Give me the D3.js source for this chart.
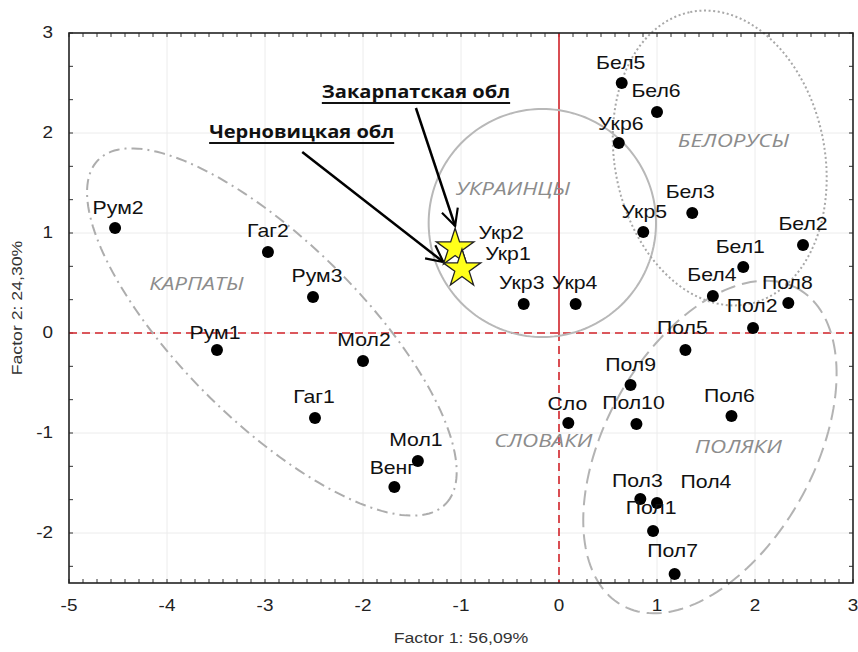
<!DOCTYPE html>
<html lang="ru">
<head>
<meta charset="UTF-8">
<title>Factor plot</title>
<script src="https://d3js.org/d3.v7.min.js"></script>
<style>
    body { margin: 0; background: #fff; }
    svg { display: block; }
    .lbl { font-family: "Liberation Sans", Arial, sans-serif; font-size: 18px; fill: #111; }
    .tick-lbl { font-family: "Liberation Sans", Arial, sans-serif; font-size: 16px; fill: #222; }
    .ttl { font-family: "Liberation Sans", Arial, sans-serif; font-size: 15px; fill: #333; }
    .grp { font-family: "Open Sans", sans-serif; font-style: italic; font-size: 19px; fill: #8c8c8c; }
    .note { font-family: "Open Sans", sans-serif; font-weight: bold; font-size: 17px; fill: #111; }
</style>
</head>
<body>
<svg width="858" height="652"></svg>
<script>
// samples, factor scores
const names = ["Рум2", "Гаг2", "Рум3", "Рум1", "Мол2", "Гаг1", "Мол1", "Венг",
    "Укр2", "Укр1", "Укр3", "Укр4", "Сло",
    "Бел5", "Бел6", "Укр6", "Бел3", "Укр5", "Бел2", "Бел1", "Бел4",
    "Пол8", "Пол2", "Пол5", "Пол9", "Пол10", "Пол6", "Пол3", "Пол4", "Пол1", "Пол7"];
const factor1 = [-4.53, -2.97, -2.51, -3.49, -2.00, -2.49, -1.44, -1.68,
    -1.06, -0.99, -0.36, 0.17, 0.095,
    0.64, 1.00, 0.61, 1.36, 0.86, 2.49, 1.88, 1.57,
    2.34, 1.98, 1.29, 0.73, 0.79, 1.76, 0.83, 1.00, 0.96, 1.18];
const factor2 = [1.05, 0.81, 0.36, -0.17, -0.28, -0.85, -1.28, -1.54,
    0.85, 0.64, 0.29, 0.29, -0.90,
    2.50, 2.21, 1.90, 1.20, 1.01, 0.88, 0.66, 0.37,
    0.30, 0.05, -0.17, -0.52, -0.91, -0.83, -1.66, -1.70, -1.98, -2.41];
const starNames = ["Укр2", "Укр1"];

const xTicks = [-5, -4, -3, -2, -1, 0, 1, 2, 3];
const yTicks = [-2, -1, 0, 1, 2, 3];
const xTitle = "Factor 1: 56,09%";
const yTitle = "Factor 2: 24,30%";

// group ellipses: centre, semi-axes (factor units), rotation (deg)
const groupNames = ["КАРПАТЫ", "УКРАИНЦЫ", "БЕЛОРУСЫ", "ПОЛЯКИ"];
const groupCx = [-2.93, -0.17, 1.64, 1.54];
const groupCy = [0.01, 1.10, 1.75, -1.14];
const groupA = [2.47, 1.16, 1.49, 1.82];
const groupB = [0.91, 1.14, 1.07, 1.06];
const groupRot = [-44, 0, 102, 60];
// group captions
const captionText = ["КАРПАТЫ", "УКРАИНЦЫ", "БЕЛОРУСЫ", "СЛОВАКИ", "ПОЛЯКИ"];
const captionX = [-3.7, -0.47, 1.78, -0.16, 1.83];
const captionY = [0.5, 1.45, 1.93, -1.07, -1.13];

// region notes with arrows
const noteText = ["Закарпатская обл", "Черновицкая обл"];
const noteX = [-2.42, -3.57];
const noteY = [2.42, 2.02];
const arrowFromX = [-1.46, -2.62], arrowFromY = [2.25, 1.81];
const arrowToX = [-1.06, -1.18], arrowToY = [1.07, 0.71];

// label placement around each marker, px
const labelShift = {
    "Рум2": [3, -20], "Гаг2": [0, -21], "Рум3": [4, -21], "Рум1": [-2, -17], "Мол2": [1, -21],
    "Гаг1": [-1, -21], "Мол1": [-2, -21], "Венг": [-2, -19], "Укр2": [46, -15], "Укр1": [46, -15],
    "Укр3": [-2, -21], "Укр4": [-1, -21], "Сло": [-1, -19], "Бел5": [-1, -20], "Бел6": [-1, -21],
    "Укр6": [2, -19], "Бел3": [-2, -21], "Укр5": [1, -20], "Бел2": [0, -21], "Бел1": [-3, -20],
    "Бел4": [-1, -21], "Пол8": [-1, -20], "Пол2": [-1, -22], "Пол5": [-3, -22], "Пол9": [0, -20],
    "Пол10": [-3, -21], "Пол6": [-2, -20], "Пол3": [-3, -18], "Пол4": [49, -21], "Пол1": [-2, -23],
    "Пол7": [-2, -23]
};
const groupStyle = [
    {dash: "11,5,2,5", color: "#adadad"},
    {dash: null, color: "#b8b8b8"},
    {dash: "2,2.6", color: "#a8a8a8"},
    {dash: "15,7", color: "#b3b3b3"}
];

const svg = d3.select("svg");
const x = d3.scaleLinear().domain([-5, 3]).range([69, 853]);
const y = d3.scaleLinear().domain([-2.5, 3]).range([583, 33]);
const SX = 1.18;   // text in the picture is a bit wide

function txt(g, px, py, s, cls, anchor) {
    return g.append("text")
        .attr("class", cls)
        .attr("transform", `translate(${px},${py}) scale(${SX},1)`)
        .attr("text-anchor", anchor || "middle")
        .attr("dominant-baseline", "central")
        .text(s);
}

// grid
const grid = svg.append("g").attr("stroke", "#ececec").attr("stroke-width", 1);
grid.selectAll(".gx").data(xTicks.slice(1, -1)).join("line")
    .attr("x1", d => x(d)).attr("x2", d => x(d)).attr("y1", y(3)).attr("y2", y(-2.5));
grid.selectAll(".gy").data(yTicks.slice(0, -1)).join("line")
    .attr("x1", x(-5)).attr("x2", x(3)).attr("y1", d => y(d)).attr("y2", d => y(d));

// minor ticks inside the frame
const tk = svg.append("g").attr("stroke", "#333").attr("stroke-width", 1);
const xMinor = d3.range(-5, 3.001, 1 / 7);
const yMinor = d3.range(3, -2.501, -1 / 3);
xMinor.forEach(v => {
    tk.append("line").attr("x1", x(v)).attr("x2", x(v)).attr("y1", y(3)).attr("y2", y(3) + 4);
    tk.append("line").attr("x1", x(v)).attr("x2", x(v)).attr("y1", y(-2.5)).attr("y2", y(-2.5) - 4);
});
yMinor.forEach(v => {
    tk.append("line").attr("x1", x(-5)).attr("x2", x(-5) + 4).attr("y1", y(v)).attr("y2", y(v));
    tk.append("line").attr("x1", x(3)).attr("x2", x(3) - 4).attr("y1", y(v)).attr("y2", y(v));
});

// zero lines
const red = "#d2232a";
svg.append("line").attr("x1", x(-5)).attr("x2", x(3)).attr("y1", y(0)).attr("y2", y(0))
    .attr("stroke", red).attr("stroke-width", 1.6).attr("stroke-dasharray", "8,5");
svg.append("line").attr("x1", x(0)).attr("x2", x(0)).attr("y1", y(3)).attr("y2", y(0))
    .attr("stroke", red).attr("stroke-width", 1.6);
svg.append("line").attr("x1", x(0)).attr("x2", x(0)).attr("y1", y(0)).attr("y2", y(-2.5))
    .attr("stroke", red).attr("stroke-width", 1.6).attr("stroke-dasharray", "8,5");

// group ellipses
const line = d3.line().curve(d3.curveLinearClosed);
groupNames.forEach((gname, i) => {
    const r = groupRot[i] * Math.PI / 180;
    const pts = d3.range(0, 2 * Math.PI, Math.PI / 90).map(t => {
        const u = groupA[i] * Math.cos(t), w = groupB[i] * Math.sin(t);
        return [x(groupCx[i] + u * Math.cos(r) - w * Math.sin(r)),
                y(groupCy[i] + u * Math.sin(r) + w * Math.cos(r))];
    });
    svg.append("path").attr("d", line(pts))
        .attr("fill", "none")
        .attr("stroke", groupStyle[i].color)
        .attr("stroke-width", 2)
        .attr("stroke-dasharray", groupStyle[i].dash);
});

// frame
svg.append("rect").attr("x", x(-5)).attr("y", y(3))
    .attr("width", x(3) - x(-5)).attr("height", y(-2.5) - y(3))
    .attr("fill", "none").attr("stroke", "#222").attr("stroke-width", 1.6);

// axis labels
const ax = svg.append("g");
xTicks.forEach(v => txt(ax, x(v), 606, String(v), "tick-lbl"));
yTicks.forEach(v => txt(ax, 53, y(v), String(v), "tick-lbl", "end"));
txt(ax, (x(-5) + x(3)) / 2, 638, xTitle, "ttl");
ax.append("text").attr("class", "ttl")
    .attr("transform", `translate(17,${(y(3) + y(-2.5)) / 2}) rotate(-90) scale(${SX},1)`)
    .attr("text-anchor", "middle").attr("dominant-baseline", "central")
    .text(yTitle);

// group captions
captionText.forEach((s, i) => txt(svg, x(captionX[i]), y(captionY[i]), s, "grp"));

// points
const pts = names.map((n, i) => ({name: n, f1: factor1[i], f2: factor2[i]}));
svg.append("g").selectAll("circle")
    .data(pts.filter(d => !starNames.includes(d.name)))
    .join("circle")
    .attr("cx", d => x(d.f1)).attr("cy", d => y(d.f2)).attr("r", 6)
    .attr("fill", "#000");

// labels
const lg = svg.append("g");
pts.forEach(d => {
    const s = labelShift[d.name] || [0, -20];
    txt(lg, x(d.f1) + s[0], y(d.f2) + s[1], d.name, "lbl");
});

// arrows
svg.append("defs").append("marker")
    .attr("id", "head").attr("viewBox", "0 0 12 12")
    .attr("refX", 11).attr("refY", 6)
    .attr("markerWidth", 8).attr("markerHeight", 8)
    .attr("orient", "auto").attr("markerUnits", "strokeWidth")
    .append("path").attr("d", "M1,1 L11,6 L1,11")
    .attr("fill", "none").attr("stroke", "#000").attr("stroke-width", 1.3);

noteText.forEach((s, i) => {
    svg.append("line")
        .attr("x1", x(arrowFromX[i])).attr("y1", y(arrowFromY[i]))
        .attr("x2", x(arrowToX[i])).attr("y2", y(arrowToY[i]))
        .attr("stroke", "#000").attr("stroke-width", 2.5)
        .attr("marker-end", "url(#head)");
    const t = txt(svg, x(noteX[i]), y(noteY[i]), s, "note", "start");
    const w = t.node().getComputedTextLength() * SX;
    svg.append("line")
        .attr("x1", x(noteX[i])).attr("x2", x(noteX[i]) + w)
        .attr("y1", y(noteY[i]) + 12).attr("y2", y(noteY[i]) + 12)
        .attr("stroke", "#111").attr("stroke-width", 2);
});

// stars for the two regions
const star = d3.symbol().type(d3.symbolStar).size(440);
svg.append("g").selectAll("path")
    .data(pts.filter(d => starNames.includes(d.name)))
    .join("path")
    .attr("d", star)
    .attr("transform", d => `translate(${x(d.f1)},${y(d.f2)})`)
    .attr("fill", "#ffff1a").attr("stroke", "#222").attr("stroke-width", 1.3);
</script>
</body>
</html>
